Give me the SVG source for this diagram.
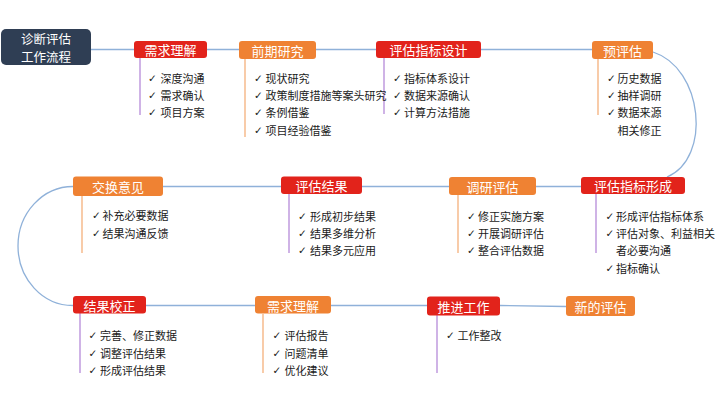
<svg xmlns="http://www.w3.org/2000/svg" width="728" height="410" viewBox="0 0 728 410">
<style>
.bg{fill:#ffffff}
.main{fill:none;stroke:#8fb1d9;stroke-width:1.3}
.vp{stroke:#c3a0e0;stroke-width:1.6}
.vo{stroke:#f7bf94;stroke-width:1.6}
.red{fill:#e2231b}
.org{fill:#ef8233}
.title{fill:#2f3e54}
.bt{font-family:"Noto Sans CJK SC","Noto Sans",sans-serif;font-size:13px;fill:#ffffff;text-anchor:middle;dominant-baseline:central}
.tt{font-family:"Noto Sans CJK SC","Noto Sans",sans-serif;font-size:12.5px;fill:#ffffff;text-anchor:middle;dominant-baseline:central}
.it{font-family:"Noto Sans CJK SC","Noto Sans",sans-serif;font-size:11px;fill:#1a1a1a;dominant-baseline:central}
.ck{font-family:"DejaVu Sans",sans-serif;font-size:10.5px;font-weight:bold;fill:#1a1a1a;dominant-baseline:central}
</style>
<rect class="bg" x="0" y="0" width="728" height="410"/>
<g id="connectors">
<line class="main" x1="91" y1="49.5" x2="592" y2="49.5"/>
<path class="main" d="M653,52 C703,68 712,158 667,177"/>
<line class="main" x1="73" y1="186.5" x2="581" y2="186.5"/>
<path class="main" d="M73,186.5 A55,59.5 0 0 0 73,305.5"/>
<line class="main" x1="73" y1="305.5" x2="500" y2="305.5"/>
<line class="main" x1="500" y1="305.5" x2="566" y2="306.5"/>
<line class="vp" x1="140" y1="57" x2="140" y2="115"/>
<line class="vo" x1="245" y1="58" x2="245" y2="137"/>
<line class="vp" x1="384" y1="58" x2="384" y2="114"/>
<line class="vo" x1="598" y1="59" x2="598" y2="115"/>
<line class="vp" x1="596" y1="194" x2="596" y2="253"/>
<line class="vo" x1="458" y1="195" x2="458" y2="253"/>
<line class="vp" x1="289" y1="194" x2="289" y2="253"/>
<line class="vo" x1="82" y1="195" x2="82" y2="253"/>
<line class="vp" x1="80" y1="313" x2="80" y2="373"/>
<line class="vo" x1="263" y1="314" x2="263" y2="373"/>
<line class="vp" x1="437" y1="315" x2="437" y2="373"/>
</g>
<g id="start">
<rect class="title" x="1" y="29" width="90" height="36" rx="5"/>
<text class="tt" x="46" y="38">诊断评估</text>
<text class="tt" x="46" y="56.3">工作流程</text>
</g>
<g id="n1">
<rect class="red" x="134" y="41" width="73" height="17" rx="3"/>
<text class="bt" x="170.5" y="49.5">需求理解</text>
<text class="ck" x="148" y="77.5">✓</text><text class="it" x="160.5" y="77.5">深度沟通</text>
<text class="ck" x="148" y="95">✓</text><text class="it" x="160.5" y="95">需求确认</text>
<text class="ck" x="148" y="112">✓</text><text class="it" x="160.5" y="112">项目方案</text>
</g>
<g id="n2">
<rect class="org" x="239" y="41" width="77" height="18" rx="3"/>
<text class="bt" x="277.5" y="50">前期研究</text>
<text class="ck" x="254" y="77.5">✓</text><text class="it" x="265.5" y="77.5">现状研究</text>
<text class="ck" x="254" y="95">✓</text><text class="it" x="265.5" y="95">政策制度措施等案头研究</text>
<text class="ck" x="254" y="112">✓</text><text class="it" x="265.5" y="112">条例借鉴</text>
<text class="ck" x="254" y="129.5">✓</text><text class="it" x="265.5" y="129.5">项目经验借鉴</text>
</g>
<g id="n3">
<rect class="red" x="376" y="41" width="105" height="17" rx="3"/>
<text class="bt" x="428.5" y="49.5">评估指标设计</text>
<text class="ck" x="393" y="77.5">✓</text><text class="it" x="404" y="77.5">指标体系设计</text>
<text class="ck" x="393" y="95">✓</text><text class="it" x="404" y="95">数据来源确认</text>
<text class="ck" x="393" y="112">✓</text><text class="it" x="404" y="112">计算方法措施</text>
</g>
<g id="n4">
<rect class="org" x="592" y="41" width="61" height="18" rx="3"/>
<text class="bt" x="622.5" y="50">预评估</text>
<text class="ck" x="607" y="77.5">✓</text><text class="it" x="617.5" y="77.5">历史数据</text>
<text class="ck" x="607" y="95">✓</text><text class="it" x="617.5" y="95">抽样调研</text>
<text class="ck" x="607" y="112">✓</text><text class="it" x="617.5" y="112">数据来源</text>
<text class="it" x="617.5" y="129.5">相关修正</text>
</g>
<g id="n5">
<rect class="red" x="581" y="177" width="104" height="17" rx="3"/>
<text class="bt" x="633" y="185.5">评估指标形成</text>
<text class="ck" x="605.5" y="215.5">✓</text><text class="it" x="616" y="215.5">形成评估指标体系</text>
<text class="ck" x="605.5" y="233">✓</text><text class="it" x="616" y="233">评估对象、利益相关</text>
<text class="it" x="616" y="250">者必要沟通</text>
<text class="ck" x="605.5" y="267.5">✓</text><text class="it" x="616" y="267.5">指标确认</text>
</g>
<g id="n6">
<rect class="org" x="449" y="177" width="87" height="18" rx="3"/>
<text class="bt" x="492.5" y="186">调研评估</text>
<text class="ck" x="467" y="215.5">✓</text><text class="it" x="478" y="215.5">修正实施方案</text>
<text class="ck" x="467" y="233">✓</text><text class="it" x="478" y="233">开展调研评估</text>
<text class="ck" x="467" y="250">✓</text><text class="it" x="478" y="250">整合评估数据</text>
</g>
<g id="n7">
<rect class="red" x="281" y="176.5" width="81" height="17.5" rx="3"/>
<text class="bt" x="321.5" y="185.5">评估结果</text>
<text class="ck" x="298" y="215.5">✓</text><text class="it" x="310" y="215.5">形成初步结果</text>
<text class="ck" x="298" y="233">✓</text><text class="it" x="310" y="233">结果多维分析</text>
<text class="ck" x="298" y="250">✓</text><text class="it" x="310" y="250">结果多元应用</text>
</g>
<g id="n8">
<rect class="org" x="73" y="176.5" width="90" height="19.5" rx="3"/>
<text class="bt" x="118" y="186.5">交换意见</text>
<text class="ck" x="92" y="214.5">✓</text><text class="it" x="102.5" y="214.5">补充必要数据</text>
<text class="ck" x="92" y="232.5">✓</text><text class="it" x="102.5" y="232.5">结果沟通反馈</text>
</g>
<g id="n9">
<rect class="red" x="73" y="296" width="73" height="17.5" rx="3"/>
<text class="bt" x="109.5" y="305">结果校正</text>
<text class="ck" x="88.5" y="334.5">✓</text><text class="it" x="100" y="334.5">完善、修正数据</text>
<text class="ck" x="88.5" y="352.5">✓</text><text class="it" x="100" y="352.5">调整评估结果</text>
<text class="ck" x="88.5" y="370">✓</text><text class="it" x="100" y="370">形成评估结果</text>
</g>
<g id="n10">
<rect class="org" x="255" y="296" width="76" height="17.5" rx="3"/>
<text class="bt" x="293" y="305">需求理解</text>
<text class="ck" x="272.5" y="334.5">✓</text><text class="it" x="284.5" y="334.5">评估报告</text>
<text class="ck" x="272.5" y="352.5">✓</text><text class="it" x="284.5" y="352.5">问题清单</text>
<text class="ck" x="272.5" y="370">✓</text><text class="it" x="284.5" y="370">优化建议</text>
</g>
<g id="n11">
<rect class="red" x="427" y="296.5" width="73" height="19" rx="3"/>
<text class="bt" x="463.5" y="306">推进工作</text>
<text class="ck" x="446" y="334.5">✓</text><text class="it" x="457.5" y="334.5">工作整改</text>
</g>
<g id="n12">
<rect class="org" x="566" y="296" width="69" height="20" rx="3"/>
<text class="bt" x="600.5" y="306">新的评估</text>
</g>
</svg>
